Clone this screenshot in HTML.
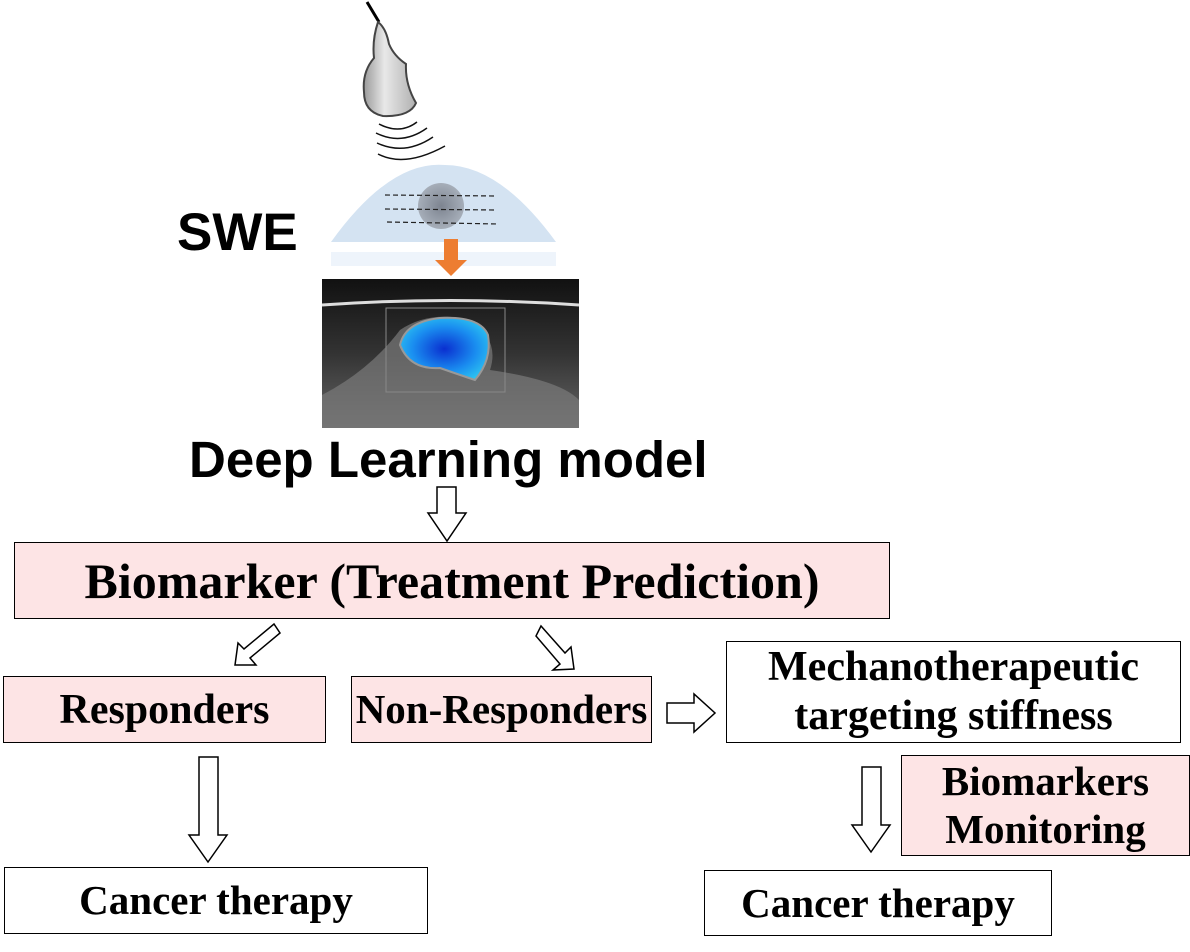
<!DOCTYPE html>
<html><head><style>
body{margin:0;width:1190px;height:952px;background:#fff;position:relative;overflow:hidden;font-family:"Liberation Serif",serif;}
.b{position:absolute;border:1.5px solid #000;box-sizing:border-box;display:flex;align-items:center;justify-content:center;text-align:center;font-weight:bold;color:#000;line-height:1.0;white-space:nowrap;}
.t{line-height:1.17;}
.p{background:#fde4e5;}
.s{position:absolute;font-family:"Liberation Sans",sans-serif;font-weight:bold;white-space:nowrap;}
</style></head><body>
<div class="s" style="left:177px;top:202px;font-size:53px;">SWE</div>
<div class="s" style="left:189px;top:430px;font-size:51px;">Deep Learning model</div>

<svg width="1190" height="952" style="position:absolute;left:0;top:0">
<defs>
<radialGradient id="g1"><stop offset="0" stop-color="#7d8490"/><stop offset="1" stop-color="#a6aeb9"/></radialGradient>
<radialGradient id="blue" cx="0.5" cy="0.5" r="0.6"><stop offset="0" stop-color="#0a2fd0"/><stop offset="0.6" stop-color="#1a8ef0"/><stop offset="1" stop-color="#2ec8f0"/></radialGradient>
<linearGradient id="us" x1="0" y1="0" x2="0" y2="1"><stop offset="0" stop-color="#111"/><stop offset="0.5" stop-color="#333"/><stop offset="1" stop-color="#666"/></linearGradient>
<linearGradient id="pr" x1="0" y1="0" x2="1" y2="0"><stop offset="0" stop-color="#9a9a9a"/><stop offset="0.4" stop-color="#e8e8e8"/><stop offset="1" stop-color="#b0b0b0"/></linearGradient>
</defs>
<line x1="367" y1="2" x2="379" y2="22" stroke="#000" stroke-width="3"/>
<path d="M378 22 Q372 40 374 58 Q362 72 364 92 Q364 112 383 116 Q410 117 416 103 Q405 84 406 64 Q394 56 389 44 Q386 28 378 22Z" fill="url(#pr)" stroke="#444" stroke-width="2"/>
<g fill="none" stroke="#111" stroke-width="1.5">
<path d="M379 124 Q400 135 417 122"/><path d="M376 133 Q402 146 427 128"/><path d="M377 143 Q405 156 433 137"/><path d="M378 154 Q405 168 445 146"/>
</g>
<path d="M331 242 Q390 160 445 165 Q500 165 556 242Z" fill="#d4e3f2"/>
<rect x="331" y="252" width="225" height="14" fill="#eef4fb"/>
<circle cx="441" cy="206" r="23" fill="url(#g1)"/>
<g stroke="#222" stroke-width="1.2" stroke-dasharray="5,3"><line x1="385" y1="195" x2="497" y2="196"/><line x1="385" y1="209" x2="497" y2="210"/><line x1="387" y1="222" x2="499" y2="224"/></g>
<path d="M444 239h14v21h9l-16 16-16-16h9z" fill="#ed7d31"/>
<rect x="322" y="279" width="257" height="149" fill="url(#us)"/>
<path d="M322 305 Q450 296 579 305" stroke="#ddd" stroke-width="3" fill="none"/>
<path d="M322 395 Q370 370 400 330 Q430 310 470 320 Q500 340 490 370 Q560 380 579 400 L579 428 L322 428Z" fill="#7a7a7a" opacity="0.7"/>
<rect x="386" y="308" width="119" height="84" fill="none" stroke="#888"/>
<path d="M400 345 Q405 322 440 318 Q480 316 488 335 Q492 360 475 380 Q460 375 440 368 Q410 370 400 345Z" fill="url(#blue)" stroke="#999" stroke-width="2"/>
<g fill="#fff" stroke="#000" stroke-width="1.5">
<path d="M437 487h19v26h10l-19 28-19-28h9z"/>
<path d="M199 757h19v78h9l-19 27-19-27h10z"/>
<path d="M862 767h19v58h9l-19 27-19-27h10z"/>
<path d="M667 703h27v-9l21 19-21 19v-9h-27z"/>
<path d="M280 633l-30 25 6 7-21 0 3-22 6 6 30-25z"/>
<path d="M536 636l24 28 -7 6 21 -1 -3 -22 -6 6 -24 -27z"/>
</g>
</svg>

<div class="b p" style="left:14px;top:542px;width:876px;height:77px;font-size:50px;">Biomarker (Treatment Prediction)</div>
<div class="b p" style="left:3px;top:676px;width:323px;height:67px;font-size:42px;">Responders</div>
<div class="b p" style="left:351px;top:676px;width:301px;height:67px;font-size:41px;">Non-Responders</div>
<div class="b t" style="left:726px;top:641px;width:455px;height:102px;font-size:42px;">Mechanotherapeutic<br>targeting stiffness</div>
<div class="b p t" style="left:901px;top:755px;width:289px;height:101px;font-size:41px;">Biomarkers<br>Monitoring</div>
<div class="b" style="left:4px;top:867px;width:424px;height:67px;font-size:41px;">Cancer therapy</div>
<div class="b" style="left:704px;top:870px;width:348px;height:66px;font-size:41px;">Cancer therapy</div>
</body></html>
